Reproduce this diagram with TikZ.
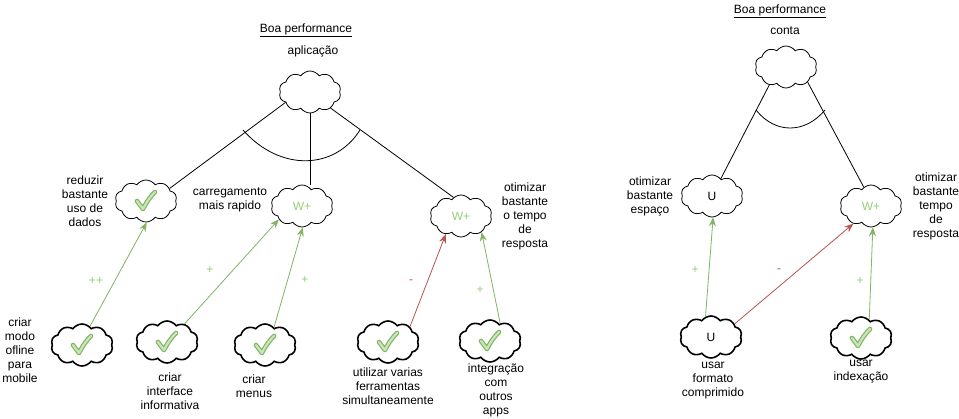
\documentclass[tikz,border=0pt]{standalone}
\usepackage{fontspec}
\setmainfont{Liberation Sans}
\usetikzlibrary{shapes.symbols,arrows.meta}
\definecolor{gline}{HTML}{82B366}
\definecolor{glab}{HTML}{97D077}
\definecolor{gfill}{HTML}{C9E6B8}
\definecolor{rline}{HTML}{B85450}
\tikzset{
  cl/.style={cloud, cloud puffs=10, cloud puff arc=110, aspect=1.45, draw,
    line width=0.8pt, minimum width=62pt, minimum height=42pt, inner sep=0pt,
    font=\fontsize{12}{14}\selectfont},
  act/.style={cl, line width=1.6pt},
  wp/.style={text=glab},
  txt/.style={align=center, font=\fontsize{12}{14}\selectfont, inner sep=0pt},
  lbl/.style={font=\fontsize{12}{14}\selectfont, inner sep=0pt},
  conn/.style={line width=0.8pt},
  garr/.style={draw=gline, line width=0.8pt, -{Stealth[length=9pt,width=7pt]}},
  rarr/.style={draw=rline, line width=0.8pt, -{Stealth[length=9pt,width=7pt]}},
  tick/.pic={
    \draw[gline, line width=4.6pt, line cap=round, line join=round]
      (-9,0) -- (-3,8) .. controls (1,0) and (5,-5) .. (9,-9);
    \draw[gfill, line width=2.2pt, line cap=round, line join=round]
      (-9,0) -- (-3,8) .. controls (1,0) and (5,-5) .. (9,-9);
  }
}
\begin{document}
\begin{tikzpicture}[x=1pt,y=-1pt]
\useasboundingbox[fill=white] (0,0) rectangle (959,418);

% ---------- left diagram ----------
\node[txt] (t1) at (306,30) {\underline{Boa performance}};
\node[txt] (t2) at (313,51) {aplicação};
\node[cl] (app) at (310,92) {};

\node[cl] (reduz) at (146,201) {};
\pic at (reduz.center) {tick};
\node[txt] (reduzt) at (85,201) {reduzir\\bastante\\uso de\\dados};

\node[cl, wp] (carr) at (302,206) {W+};
\node[txt] (carrt) at (230,200) {carregamento\\mais rapido};

\node[cl, wp] (otim) at (461,216) {W+};
\node[txt] (otimt) at (525,216) {otimizar\\bastante\\o tempo\\de\\resposta};

\draw[conn] (app.203) -- (reduz.28);
\draw[conn] (app.south) -- (app.south |- carr.north);
\draw[conn] (app.322) -- (otim.112);
\draw[conn] (243,130) .. controls (280,172) and (335,170) .. (360,130);

\node[act] (modo) at (82,345) {};
\pic at (modo.center) {tick};
\node[txt] (modot) at (20,350) {criar\\modo\\ofline\\para\\mobile};

\node[act] (inter) at (167,342) {};
\pic at (inter.center) {tick};
\node[txt] (intert) at (170,391) {criar\\interface\\informativa};

\node[act] (menu) at (265,345) {};
\pic at (menu.center) {tick};
\node[txt] (menut) at (254,386) {criar\\menus};

\node[act] (util) at (388,342) {};
\pic at (util.center) {tick};
\node[txt] (utilt) at (388,386) {utilizar varias\\ferramentas\\simultaneamente};

\node[act] (integ) at (490,341) {};
\pic at (integ.center) {tick};
\node[txt] (integt) at (496,390) {integração\\com\\outros\\apps};

\draw[garr] (modo.67) -- (reduz.272);
\draw[garr] (inter.46) -- (carr.210);
\draw[garr] (menu.63) -- (carr.272);
\draw[rarr] (util.35) -- (otim.230);
\draw[garr] (integ.60) -- (otim.322);

\node[lbl, text=glab] (l1) at (96,281) {++};
\node[lbl, text=glab] (l2) at (210,270) {+};
\node[lbl, text=glab] (l3) at (305,280) {+};
\node[lbl, text=rline] (l4) at (411,282) {-};
\node[lbl, text=glab] (l5) at (480,290) {+};

% ---------- right diagram ----------
\node[txt] (r1) at (780,11) {\underline{Boa performance}};
\node[txt] (r2) at (785,31) {conta};
\node[cl] (capp) at (786,67) {};

\node[cl] (uesp) at (712,196) {U};
\node[txt] (uespt) at (650,196) {otimizar\\bastante\\espaço};

\node[cl, wp] (wr) at (871,206) {W+};
\node[txt] (wrt) at (936,206) {otimizar\\bastante\\tempo\\de\\resposta};

\draw[conn] (capp.227) -- (uesp.63);
\draw[conn] (capp.325) -- (wr.111);
\draw[conn] (756,110) .. controls (775,134) and (805,134) .. (825,110);

\node[act] (fmt) at (711,337) {U};
\node[txt] (fmtt) at (713,381) {usar\\formato\\comprimido};

\node[act] (idx) at (861,338) {};
\pic at (idx.center) {tick};
\node[txt] (idxt) at (861,372) {usar\\indexação};

\draw[garr] (fmt.105) -- (uesp.273);
\draw[rarr] (fmt.29) -- (wr.225);
\draw[garr] (idx.66) -- (wr.275);

\node[lbl, text=glab] (m1) at (695,270) {+};
\node[lbl, text=rline] (m2) at (779,271) {-};
\node[lbl, text=glab] (m3) at (860,281) {+};
\end{tikzpicture}
\end{document}
